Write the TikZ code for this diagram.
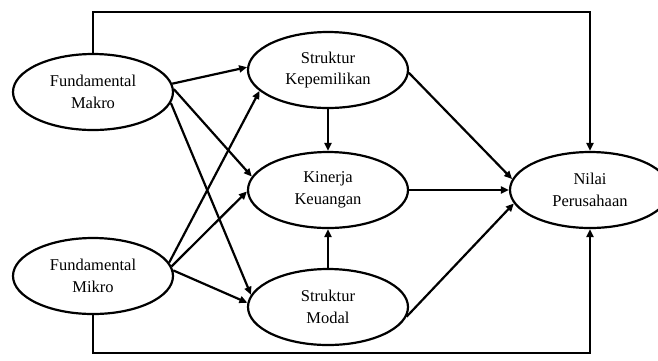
\documentclass[tikz,border=0pt]{standalone}
\usepackage{fontspec}
\setmainfont{Liberation Serif}
\usetikzlibrary{shapes.geometric,arrows.meta}

\begin{document}
	\begin{tikzpicture}[x=1pt, y=-1pt,
		var/.style={draw, ellipse, line width=2.2pt, minimum width=160pt, minimum height=76pt, inner sep=0pt, align=center, font=\fontsize{16.5}{21.5}\selectfont},
		arr/.style={line width=2.2pt, -{Triangle[length=8pt,width=7pt]}}]
		\useasboundingbox (0,0) rectangle (658,360);
		\node[var] (makro) at (93,92) {Fundamental\\Makro};
		\node[var] (mikro) at (93,276) {Fundamental\\Mikro};
		\node[var] (kepem) at (328,70) {Struktur\\Kepemilikan};
		\node[var] (kinerja) at (328,190) {Kinerja\\Keuangan};
		\node[var] (modal) at (328,307) {Struktur\\Modal};
		\node[var] (nilai) at (590,190) {Nilai\\Perusahaan};
		\coordinate (topline) at (0,12);
		\coordinate (botline) at (0,353);
		\draw[arr] (makro.6) -- (kepem.178);
		\draw[arr] (makro.2) -- (kinerja.170);
		\draw[arr] (makro.-8) -- (modal.171);
		\draw[arr] (mikro.10) -- (kepem.197);
		\draw[arr] (mikro.7) -- (kinerja.181);
		\draw[arr] (mikro.4) -- (modal.177);
		\draw[arr] (kepem.south) -- (kinerja.north);
		\draw[arr] (modal.north) -- (kinerja.south);
		\draw[arr] (kepem.-2) -- (nilai.172);
		\draw[arr] (kinerja) -- (nilai);
		\draw[arr] (modal.-7) -- (nilai.190);
		\draw[arr] (makro.north) |- (topline -| nilai.north) -- (nilai.north);
		\draw[arr] (mikro.south) |- (botline -| nilai.south) -- (nilai.south);
	\end{tikzpicture}
\end{document}
